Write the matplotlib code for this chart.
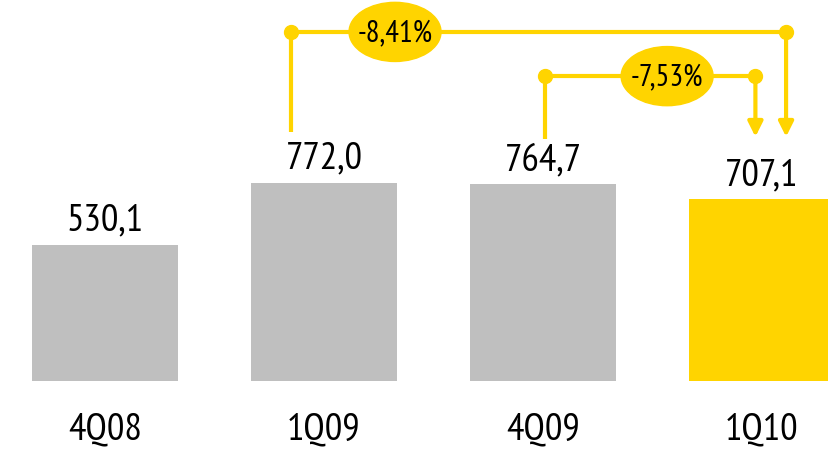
import matplotlib
matplotlib.use("Agg")
import matplotlib.pyplot as plt
from matplotlib.patches import Ellipse

periods = ["4Q08", "1Q09", "4Q09", "1Q10"]
values = [530.1, 772.0, 764.7, 707.1]
value_labels = ["530,1", "772,0", "764,7", "707,1"]
# (from bar, to bar, label)
changes = [(1, 3, "-8,41%"), (2, 3, "-7,53%")]

GREY = "#BFBFBF"
YELLOW = "#FFD400"
FONT = ["PT Sans Narrow", "DejaVu Sans"]

fig = plt.figure(figsize=(8.29, 4.52), dpi=100)
ax = fig.add_axes([0, 0, 1, 1])
ax.set_xlim(-0.479, 3.306)
ax.set_ylim(-272, 1486)
ax.axis("off")

colors = [GREY, GREY, GREY, YELLOW]
x = list(range(len(periods)))
ax.bar(x, values, width=0.667, color=colors, zorder=2)

for xi, v, lab, per in zip(x, values, value_labels, periods):
    ax.annotate(lab, (xi, v), xytext=(0, 5), textcoords="offset points",
                ha="center", va="bottom", fontsize=28, family=FONT)
    ax.text(xi, -185, per, ha="center", va="center", fontsize=28, family=FONT)

# brackets with percentage change
levels = [1358, 1186]
starts = [(-0.15, 969), (0.01, 941)]
ends = [0.11, -0.03]
ell_pos = [0.21, 0.58]
tip_y = 950
for (i0, i1, lab), ly, (dx0, y0), dx1, fpos in zip(changes, levels, starts, ends, ell_pos):
    xa = i0 + dx0
    xb = i1 + dx1
    ax.plot([xa, xa, xb], [y0, ly, ly], color=YELLOW, lw=3, zorder=3,
            solid_capstyle="butt")
    ax.plot([xa, xb], [ly, ly], "o", color=YELLOW, ms=10, zorder=4)
    ax.annotate("", xy=(xb, tip_y), xytext=(xb, ly),
                arrowprops=dict(arrowstyle="-|>", color=YELLOW, lw=3,
                                mutation_scale=22, shrinkA=0, shrinkB=0),
                zorder=3)
    ex = xa + (xb - xa) * fpos
    ax.add_patch(Ellipse((ex, ly), 0.42, 230, color=YELLOW, zorder=5))
    ax.text(ex, ly, lab, ha="center", va="center", fontsize=22,
            family=FONT, zorder=6)

fig.savefig("out.png", dpi=100)
